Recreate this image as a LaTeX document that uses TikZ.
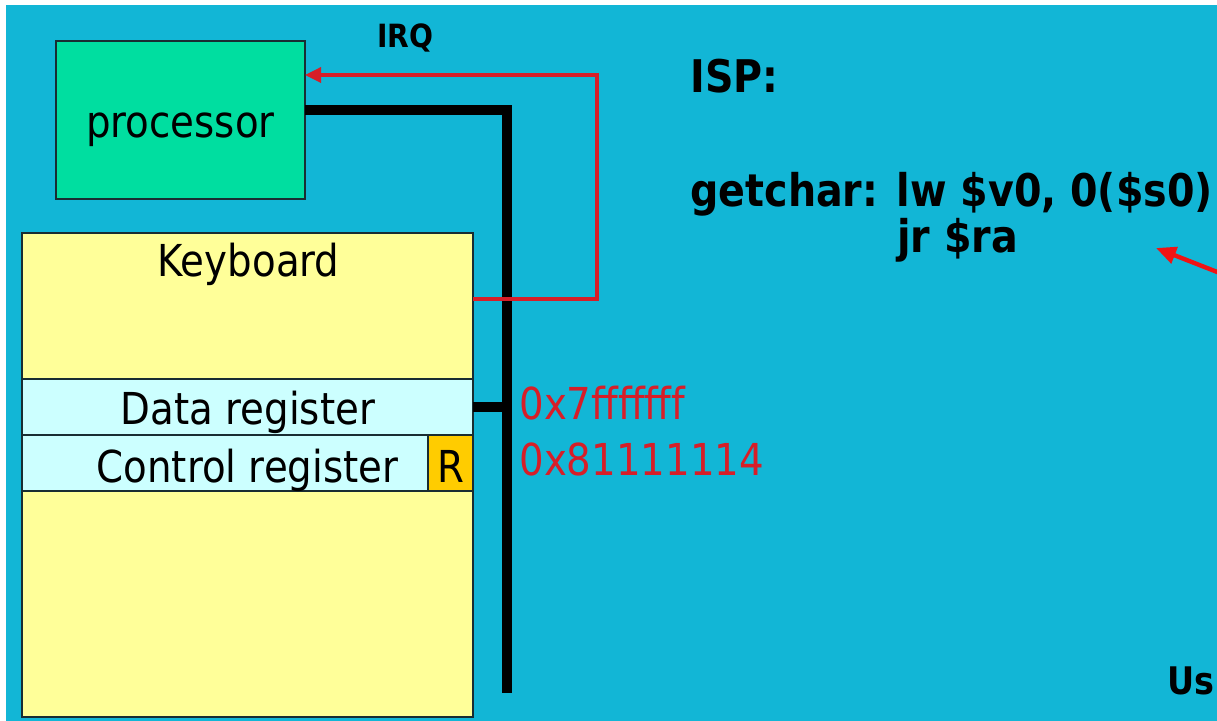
\documentclass[tikz,border=0pt]{standalone}
\usepackage{fontspec}
\setmainfont{DejaVu Sans}[FakeStretch=0.88]
\usetikzlibrary{positioning,arrows.meta}

\definecolor{slide}{RGB}{18,182,214}
\definecolor{cpu}{RGB}{0,222,160}
\definecolor{kbd}{RGB}{255,255,153}
\definecolor{reg}{RGB}{204,255,255}
\definecolor{rbit}{RGB}{255,204,0}
\definecolor{irqred}{RGB}{215,30,40}
\definecolor{ptrred}{RGB}{240,20,20}
\definecolor{edge}{RGB}{25,45,50}

\begin{document}
\begin{tikzpicture}[x=0.5pt, y=-0.5pt,
    box/.style={draw=edge, line width=1pt, inner sep=0pt, outer sep=0pt},
    bus/.style={line width=5pt},
    irq/.style={draw=irqred, line width=1.7pt},
    big/.style={font=\fontsize{22}{26}\selectfont, inner sep=0pt, anchor=base},
    regtext/.style={font=\fontsize{22}{26}\selectfont, inner sep=0pt, anchor=base},
    addr/.style={font=\fontsize{22}{26}\selectfont, text=irqred, inner sep=0pt, anchor=base west},
    code/.style={font=\bfseries\fontsize{22.5}{27}\selectfont, inner sep=0pt, anchor=base west}]
    \useasboundingbox (0,0) rectangle (1217,721);
    \clip (0,0) rectangle (1217,721);

    % Slide
    \fill[slide] (6,5) rectangle (1217,721);

    % Processor
    \node[box, fill=cpu, minimum width=124.5pt, minimum height=79pt] (proc) at (180.5,120) {};
    \node[big] (procLabel) at (180.5,138) {processor};

    % Keyboard and its registers
    \node[box, fill=kbd, minimum width=225.5pt, minimum height=242pt] (kbd) at (247.5,475) {};
    \node[big] (kbdLabel) at (248.5,277) {Keyboard};
    \node[box, fill=reg, minimum width=225.5pt, minimum height=28pt] (data) at (247.5,407) {};
    \node[regtext] (dataLabel) at (248,425) {Data register};
    \node[box, fill=reg, minimum width=225.5pt, minimum height=28pt] (ctrl) at (247.5,463) {};
    \node[regtext] (ctrlLabel) at (247.5,483) {Control register};
    \node[box, fill=rbit, minimum width=22.5pt, minimum height=28pt] (rbit) at (450.5,463) {};
    \node[regtext] (rbitLabel) at (451,483) {R};

    % Bus
    \coordinate (busTop) at (507,110);
    \coordinate (busEnd) at (507,693);
    \draw[bus] (busTop -| proc.east) -- (busTop) -- (busEnd);
    \draw[bus] (data.east) -- (data.east -| busTop);

    % Interrupt request
    \coordinate (irqTurn) at (597,75);
    \coordinate (irqOut) at (597,299);
    \draw[irq, -{Triangle[length=8pt, width=7.5pt]}] (irqOut -| kbd.east) -- (irqOut) -- (irqTurn) -- (irqTurn -| proc.east);
    \node[font=\bfseries\fontsize{16}{18}\selectfont, inner sep=0pt, anchor=base] (irqLabel) at (405.5,48) {IRQ};

    % Addresses
    \node[addr] (dataAddr) at (519,420) {0x7fffffff};
    \node[addr] (ctrlAddr) at (519,476) {0x81111114};

    % Service routine
    \node[code] (isp) at (690,93) {ISP:};
    \node[code] (getchar) at (690,207) {getchar: lw \$v0, 0(\$s0)};
    \node[code] (jr) at (897,253) {jr \$ra};

    \coordinate (ptrTail) at (1230,277);
    \coordinate (ptrTip) at (1156,248);
    \draw[ptrred, line width=2.2pt, -{Triangle[length=10pt, width=8.5pt]}] (ptrTail) -- (ptrTip);

    \node[code, font=\bfseries\fontsize{19}{23}\selectfont] (user) at (1167,695) {Us};
\end{tikzpicture}
\end{document}
